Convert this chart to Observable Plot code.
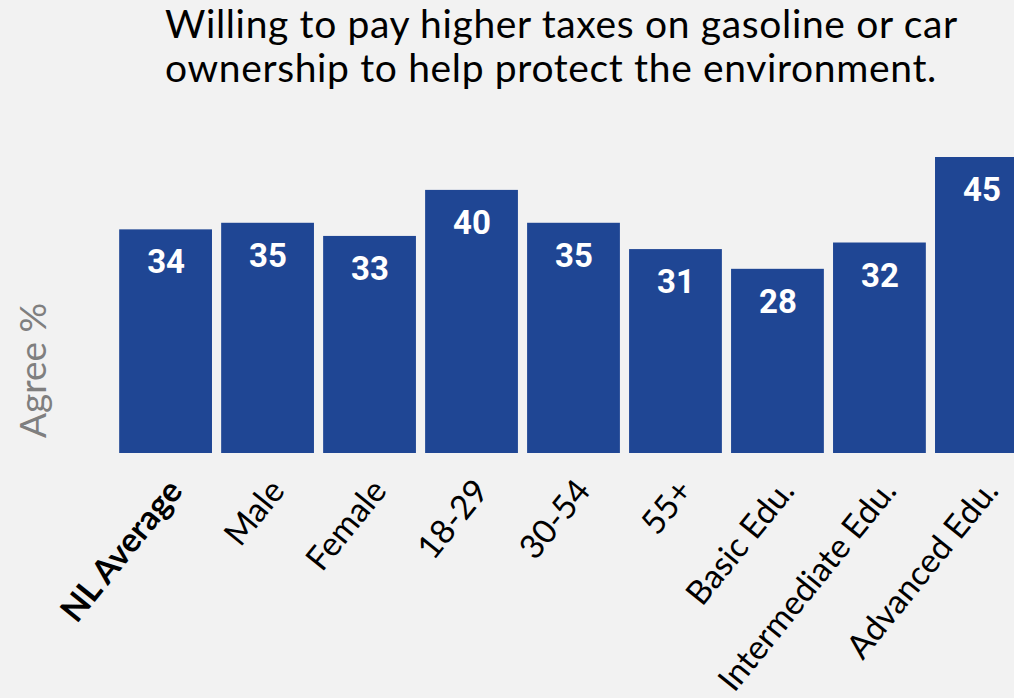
<!DOCTYPE html>
<html><head><meta charset="utf-8">
<script src="https://cdn.jsdelivr.net/npm/d3@7"></script>
<script src="https://cdn.jsdelivr.net/npm/@observablehq/plot@0.6"></script>
<style>
html,body{margin:0;padding:0;background:#f2f2f2;overflow:hidden;width:1014px;height:698px;}
#title{position:relative;height:110px;}
#title div{position:absolute;left:165px;font-family:Lato,sans-serif;font-size:39px;letter-spacing:0.65px;line-height:44px;height:44px;color:#000;white-space:nowrap;}
</style></head><body>
<div id="title"><div style="top:1px">Willing to pay higher taxes on gasoline or car</div><div style="top:45px">ownership to help protect the environment.</div></div>
<div id="chart"></div>
<script>
const categories = ["NL Average","Male","Female","18-29","30-54","55+","Basic Edu.","Intermediate Edu.","Advanced Edu."];
const values = [34,35,33,40,35,31,28,32,45];
const highlight = "NL Average";
const yLabel = "Agree %";
const data = categories.map((c,i)=>({category:c, value: values[i]}));
const labelStyle = {x:"category", y:()=>0, text:"category", rotate:-51, textAnchor:"end", lineAnchor:"bottom", dx:18, dy:38, fontFamily:"Lato", fontSize:33.5, fill:"black"};
const chart = Plot.plot({
  width:1014, height:588, marginLeft:110, marginRight:0, marginTop:0, marginBottom:0,
  style:{background:"transparent", overflow:"hidden"},
  x:{type:"band", domain:categories, range:[110,1037], padding:0.09, round:false, axis:null},
  y:{domain:[0,45], range:[343,47], axis:null},
  marks:[
    Plot.barY(data,{x:"category", y:"value", fill:"#1f4694"}),
    Plot.text(data,{x:"category", y:"value", text:d=>String(d.value), fill:"white", fontFamily:"Roboto", fontWeight:"bold", fontSize:33, lineAnchor:"middle", dy:33}),
    Plot.text(data.filter(d=>d.category!==highlight), labelStyle),
    Plot.text(data.filter(d=>d.category===highlight), {...labelStyle, fontWeight:"bold"}),
    Plot.text([yLabel], {text:d=>d, frameAnchor:"left", rotate:-90, textAnchor:"middle", lineAnchor:"middle", dx:-76, dy:-34, fontSize:37, fill:"#7f7f7f", fontFamily:"Lato"})
  ]
});
document.getElementById("chart").appendChild(chart);
</script>
</body></html>
